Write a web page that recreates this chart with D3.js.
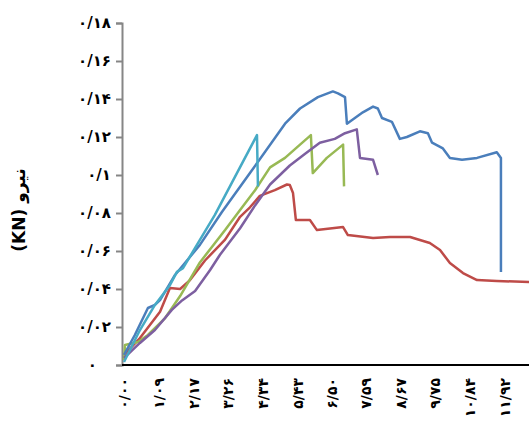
<!DOCTYPE html>
<html><head><meta charset="utf-8">
<script src="https://cdn.jsdelivr.net/npm/d3@7"></script>
<style>body{margin:0;background:#fff}text{font-family:"DejaVu Sans",sans-serif;font-weight:bold}</style>
</head><body><svg id="c" width="529" height="431"></svg>
<script>
const xTicks=[0,1.085,2.17,3.26,4.34,5.43,6.50,7.59,8.67,9.75,10.84,11.92];
const xTickLabels=["۰/۰۰","۱/۰۹","۲/۱۷","۳/۲۶","۴/۳۴","۵/۴۳","۶/۵۰","۷/۵۹","۸/۶۷","۹/۷۵","۱۰/۸۴","۱۱/۹۲"];
const yTicks=[0,0.02,0.04,0.06,0.08,0.1,0.12,0.14,0.16,0.18];
const yTickLabels=["۰","۰/۰۲","۰/۰۴","۰/۰۶","۰/۰۸","۰/۱","۰/۱۲","۰/۱۴","۰/۱۶","۰/۱۸"];
const blue=[[0,.0053],[.34,.0158],[.75,.030],[.97,.0316],[1.13,.0342],[1.6,.0474],[2.38,.0632],[3.07,.0805],[3.95,.101],[5.05,.127],[5.52,.135],[6.08,.141],[6.55,.144],[6.71,.143],[6.93,.141],[6.99,.127],[7.49,.133],[7.81,.136],[7.96,.135],[8.09,.130],[8.4,.128],[8.65,.119],[8.87,.120],[9.28,.123],[9.53,.122],[9.66,.117],[10.0,.114],[10.22,.109],[10.6,.108],[11.07,.109],[11.69,.112],[11.82,.109],[11.82,.049]];
const cyan=[[0,.0016],[.5,.0184],[.97,.0316],[1.44,.042],[1.66,.049],[1.85,.051],[2.23,.0616],[2.85,.079],[4.17,.121],[4.2,.094]];
const green=[[0,.0026],[.03,.0105],[.44,.0121],[.75,.0158],[1.29,.0247],[1.76,.0363],[2.38,.054],[3.17,.071],[3.64,.0816],[4.11,.092],[4.58,.104],[5.05,.109],[5.52,.116],[5.86,.121],[5.92,.101],[6.36,.109],[6.87,.116],[6.9,.094]];
const purple=[[0,.0037],[.5,.0116],[.97,.0184],[1.5,.029],[1.82,.034],[2.23,.039],[2.7,.050],[3.01,.058],[3.64,.072],[4.11,.084],[4.58,.095],[5.2,.105],[5.67,.111],[6.14,.117],[6.61,.119],[6.93,.122],[7.3,.124],[7.4,.109],[7.81,.108],[7.96,.100]];
const red=[[0,.0053],[.5,.0142],[1.13,.028],[1.44,.0405],[1.76,.040],[2.07,.0447],[2.54,.055],[3.17,.066],[3.64,.078],[3.95,.083],[4.26,.089],[4.73,.092],[5.11,.095],[5.2,.0947],[5.3,.0905],[5.39,.0763],[5.83,.0763],[6.05,.071],[6.87,.0726],[7.02,.0684],[7.81,.0668],[8.34,.0674],[8.97,.0674],[9.59,.0642],[9.91,.0605],[10.22,.0537],[10.63,.0484],[11.07,.0447],[11.69,.0442],[12.7,.0437]];
const series=[{d:red,c:"#be4b48"},{d:green,c:"#98b954"},{d:purple,c:"#7d5fa0"},{d:blue,c:"#4a7ebb"},{d:cyan,c:"#46aac5"}];
const svg=d3.select("#c");
const x=d3.scaleLinear().domain([0,12.7]).range([124,529]);
const y=d3.scaleLinear().domain([0,0.18]).range([365,23]);
const ya=svg.append("g").attr("transform","translate(122,0)").call(d3.axisLeft(y).tickValues(yTicks).tickFormat((d,i)=>yTickLabels[i]).tickSize(6).tickPadding(5));
ya.select(".domain").attr("stroke","#868686").attr("stroke-width",2);
ya.selectAll(".tick line").attr("stroke","#868686").attr("stroke-width",2);
ya.selectAll(".tick text").attr("font-size",15).attr("font-weight","bold").attr("fill","#000").attr("font-family","DejaVu Sans");
ya.selectAll(".tick").filter(d=>d===0).select("text").attr("dx",-14);
const xa=svg.append("g").attr("transform","translate(0,365)").call(d3.axisBottom(x).tickValues(xTicks).tickFormat((d,i)=>xTickLabels[i]).tickSize(0).tickSizeOuter(0));
xa.select(".domain").attr("stroke","#000").attr("stroke-width",2).attr("d","M122,0H529");
xa.selectAll(".tick text").attr("font-size",14).attr("font-weight","bold").attr("fill","#000").attr("font-family","DejaVu Sans")
 .attr("transform","rotate(-90)").attr("text-anchor","end").attr("x",-13).attr("y",0).attr("dy","0.35em");
const line=d3.line().x(d=>x(d[0])).y(d=>y(d[1]));
series.forEach(s=>svg.append("path").attr("d",line(s.d)).attr("fill","none").attr("stroke",s.c).attr("stroke-width",2.5).attr("stroke-linejoin","round"));
svg.append("text").attr("transform","translate(25,210) rotate(-90)").attr("text-anchor","middle").attr("font-size",17).text("(KN) نیرو");
</script></body></html>
